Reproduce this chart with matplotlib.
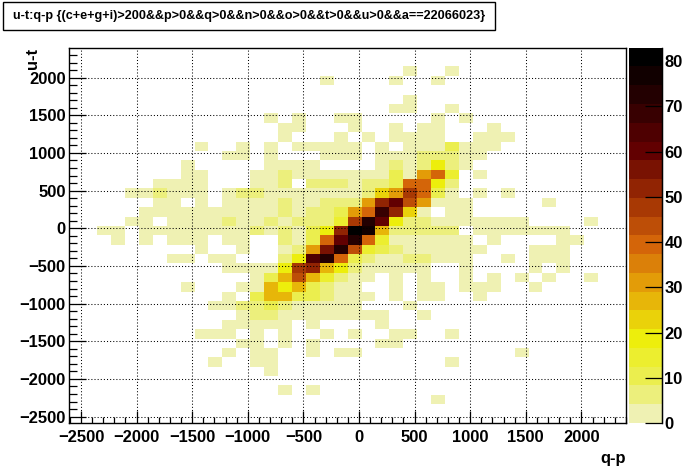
import numpy as np
import matplotlib
matplotlib.use("Agg")
import matplotlib.pyplot as plt
from matplotlib.colors import ListedColormap, BoundaryNorm
from matplotlib.patches import Rectangle
from matplotlib.ticker import MultipleLocator

plt.rcParams['font.family'] = ['Liberation Sans', 'DejaVu Sans']

# ---------------- data ----------------
title_text = "u-t:q-p {(c+e+g+i)>200&&p>0&&q>0&&n>0&&o>0&&t>0&&u>0&&a==22066023}"
x_label = "q-p"
y_label = "u-t"
x_range = (-2605.0, 2401.0)
y_range = (-2585.0, 2397.0)
n_bins_x = 40
n_bins_y = 40
x_ticks = [-2500, -2000, -1500, -1000, -500, 0, 500, 1000, 1500, 2000]
y_ticks = [-2500, -2000, -1500, -1000, -500, 0, 500, 1000, 1500, 2000]
z_ticks = [0, 10, 20, 30, 40, 50, 60, 70, 80]
n_contours = 20

# bin contents: row index 0 = top row of the plot, keys = x-bin index (0 = left)
rows_top_down = [
    {},                                                                   # 0
    {},                                                                   # 1
    {24: 2, 27: 2},                                                       # 2
    {18: 2, 23: 2, 26: 2},                                                # 3
    {},                                                                   # 4
    {24: 2},                                                              # 5
    {23: 2, 24: 2, 27: 2},                                                # 6
    {14: 2, 16: 2, 19: 2, 20: 2, 26: 2, 28: 2},                           # 7
    {15: 2, 16: 2, 20: 2, 23: 2, 25: 2, 26: 2, 30: 2},                    # 8
    {15: 2, 19: 2, 21: 2, 23: 2, 24: 2, 25: 2, 26: 2, 29: 2, 30: 2, 31: 2},  # 9
    {9: 2, 12: 2, 14: 2, 16: 2, 17: 2, 18: 2, 19: 2, 20: 2, 22: 2, 24: 2,
     25: 2, 26: 2, 27: 10, 28: 2, 29: 2, 30: 2},                          # 10
    {11: 2, 12: 2, 14: 2, 18: 2, 19: 2, 20: 2, 22: 2, 23: 2, 24: 2, 25: 6,
     26: 6, 27: 6, 28: 2, 29: 2},                                         # 11
    {8: 2, 14: 2, 15: 2, 16: 2, 17: 2, 22: 2, 23: 6, 24: 2, 25: 6, 26: 18,
     27: 6, 28: 2},                                                       # 12
    {8: 2, 9: 2, 13: 2, 14: 2, 15: 6, 16: 2, 17: 2, 18: 2, 19: 2, 20: 2,
     21: 2, 22: 2, 23: 10, 24: 2, 25: 30, 26: 38, 27: 14, 29: 2},         # 13
    {6: 2, 7: 2, 8: 2, 9: 2, 13: 2, 14: 2, 15: 6, 17: 6, 18: 6, 19: 6,
     20: 2, 21: 6, 22: 6, 23: 10, 24: 40, 25: 38, 26: 18, 27: 6},         # 14
    {4: 2, 5: 2, 6: 6, 7: 2, 8: 2, 9: 2, 11: 2, 12: 6, 13: 6, 14: 2, 15: 2,
     16: 2, 17: 2, 18: 2, 19: 2, 20: 2, 21: 6, 22: 24, 23: 32, 24: 46,
     25: 38, 26: 10, 27: 2, 29: 2, 31: 2},                                # 15
    {6: 2, 7: 2, 9: 2, 11: 2, 12: 2, 13: 2, 14: 2, 15: 6, 16: 2, 17: 2,
     18: 6, 19: 6, 20: 6, 21: 30, 22: 50, 23: 62, 24: 42, 25: 30, 26: 2,
     27: 2, 28: 2, 34: 2},                                                # 16
    {5: 2, 6: 2, 7: 2, 8: 2, 9: 2, 10: 2, 11: 2, 12: 2, 13: 2, 14: 2, 15: 6,
     16: 2, 17: 6, 18: 6, 19: 10, 20: 30, 21: 38, 22: 70, 23: 50, 24: 24,
     25: 2, 27: 2, 28: 2},                                                # 17
    {4: 2, 5: 2, 7: 2, 8: 2, 9: 2, 10: 2, 11: 6, 12: 2, 13: 2, 14: 6, 15: 2,
     16: 6, 17: 6, 18: 6, 19: 14, 20: 46, 21: 74, 22: 62, 23: 18, 24: 8,
     25: 6, 26: 2, 27: 2, 28: 2, 29: 2, 30: 2, 31: 2, 32: 2, 37: 2},      # 18
    {2: 2, 3: 2, 5: 2, 6: 2, 7: 2, 8: 2, 9: 2, 10: 2, 11: 2, 12: 2, 13: 6,
     14: 2, 15: 6, 16: 2, 17: 10, 18: 18, 19: 50, 20: 83, 21: 78, 22: 26,
     23: 6, 24: 6, 25: 6, 26: 6, 27: 6, 29: 2, 30: 2, 31: 2, 32: 2, 33: 2,
     34: 2, 35: 2},                                                       # 19
    {3: 2, 5: 2, 7: 2, 8: 2, 9: 2, 11: 2, 12: 2, 15: 6, 16: 2, 17: 10,
     18: 38, 19: 62, 20: 74, 21: 38, 22: 14, 23: 2, 24: 2, 25: 2, 26: 2,
     27: 2, 28: 2, 30: 2, 35: 2, 36: 2},                                  # 20
    {9: 2, 12: 2, 15: 2, 16: 6, 17: 30, 18: 54, 19: 74, 20: 42, 21: 14,
     22: 10, 23: 6, 24: 2, 25: 2, 26: 2, 27: 2, 28: 2, 29: 2, 33: 2, 34: 2,
     35: 2},                                                              # 21
    {7: 2, 8: 2, 10: 2, 11: 2, 15: 6, 16: 18, 17: 66, 18: 74, 19: 38,
     20: 10, 21: 6, 22: 2, 23: 2, 24: 6, 25: 6, 26: 2, 27: 2, 28: 2, 31: 2,
     33: 2, 34: 2, 35: 2},                                                # 22
    {11: 2, 12: 2, 13: 2, 14: 2, 15: 18, 16: 46, 17: 50, 18: 26, 19: 18,
     20: 6, 21: 2, 22: 2, 23: 2, 24: 2, 25: 2, 28: 2, 33: 2, 35: 2},      # 23
    {13: 2, 14: 10, 15: 26, 16: 42, 17: 26, 18: 14, 19: 6, 20: 2, 21: 2,
     23: 2, 25: 2, 28: 2, 30: 2, 32: 2, 34: 2, 37: 2},                    # 24
    {8: 2, 12: 2, 13: 2, 14: 26, 15: 18, 16: 26, 17: 10, 18: 6, 19: 2,
     20: 2, 23: 2, 25: 2, 26: 2, 28: 2, 29: 2, 30: 2, 33: 2},             # 25
    {11: 2, 13: 10, 14: 26, 15: 26, 16: 10, 17: 10, 18: 6, 19: 2, 20: 2,
     21: 2, 23: 2, 25: 2, 26: 2, 29: 2},                                  # 26
    {10: 2, 11: 2, 12: 6, 13: 8, 14: 12, 15: 6, 16: 2, 17: 2, 18: 2, 19: 2,
     20: 2, 24: 2},                                                       # 27
    {12: 2, 13: 8, 14: 8, 15: 2, 16: 2, 17: 2, 18: 2, 19: 2, 20: 2, 21: 2,
     22: 2, 25: 2},                                                       # 28
    {11: 2, 12: 2, 13: 2, 14: 2, 15: 2, 17: 2, 22: 2},                    # 29
    {9: 2, 10: 2, 11: 2, 13: 2, 15: 2, 18: 2, 20: 2, 23: 2, 24: 2, 27: 2},  # 30
    {12: 2, 13: 2, 15: 2, 17: 2, 22: 2, 23: 2},                           # 31
    {11: 2, 13: 2, 14: 2, 17: 2, 19: 2, 20: 2, 32: 2},                    # 32
    {10: 2, 13: 2, 14: 2, 27: 2},                                         # 33
    {14: 2},                                                              # 34
    {},                                                                   # 35
    {15: 2, 17: 2},                                                       # 36
    {26: 2},                                                              # 37
    {},                                                                   # 38
    {},                                                                   # 39
]

# ---------------- palette (inverted kDarkBodyRadiator, ROOT) ----------------
stops = np.array([0, .125, .25, .375, .5, .625, .75, .875, 1.0])
pr = np.array([0, 45, 99, 156, 212, 230, 237, 234, 242]) / 255.
pg = np.array([0, 0, 0, 45, 101, 168, 238, 238, 243]) / 255.
pb = np.array([0, 1, 1, 3, 9, 8, 11, 95, 230]) / 255.
npal = 255
pos = np.linspace(0, 1, npal)
pal = np.stack([np.interp(pos, stops, pr), np.interp(pos, stops, pg),
                np.interp(pos, stops, pb)], axis=1)[::-1]
band_cols = [pal[min(npal - 1, int((i + 0.99) * npal / n_contours))] for i in range(n_contours)]
cmap = ListedColormap(band_cols)

# ---------------- histogram array ----------------
counts = np.zeros((n_bins_y, n_bins_x))
for r, d in enumerate(rows_top_down):
    for c, v in d.items():
        counts[n_bins_y - 1 - r, c] = v
zmax = counts.max()
levels = np.linspace(0, zmax, n_contours + 1)
norm = BoundaryNorm(levels, cmap.N)
xedges = np.linspace(x_range[0], x_range[1], n_bins_x + 1)
yedges = np.linspace(y_range[0], y_range[1], n_bins_y + 1)

# ---------------- figure ----------------
W, H = 696, 472
fig = plt.figure(figsize=(W / 100, H / 100), dpi=100)
L, R, T, B = 69.3, 626.0, 47.7, 423.0
ax = fig.add_axes([L / W, 1 - B / H, (R - L) / W, (B - T) / H])
mesh = ax.pcolormesh(xedges, yedges, np.ma.masked_where(counts <= 0, counts),
                     cmap=cmap, norm=norm, zorder=1)
ax.set_xlim(x_range)
ax.set_ylim(y_range)
for s in ax.spines.values():
    s.set_linewidth(1.0)
    s.set_color('black')
ax.set_xticks(x_ticks)
ax.set_yticks(y_ticks)
ax.xaxis.set_minor_locator(MultipleLocator(100))
ax.yaxis.set_minor_locator(MultipleLocator(100))
ax.tick_params(axis='x', which='major', direction='in', length=8.4, width=0.9,
               top=False, labelsize=11.9, pad=5)
ax.tick_params(axis='x', which='minor', direction='in', length=4.3, width=0.9, top=False)
ax.tick_params(axis='y', which='major', direction='in', length=12, width=0.9,
               right=False, labelsize=11.9, pad=2.5)
ax.tick_params(axis='y', which='minor', direction='in', length=6, width=0.9, right=False)
for lab in ax.get_xticklabels() + ax.get_yticklabels():
    lab.set_fontweight('bold')
ax.set_axisbelow(False)
ax.grid(True, which='major', color='black', linestyle=(0, (1, 2)), linewidth=0.75)

fig.text(R / W, 1 - 458 / H, x_label, ha='right', va='center',
         fontsize=11.9, fontweight='bold')
fig.text(33 / W, 1 - T / H, y_label, ha='center', va='top', rotation=90,
         fontsize=11.9, fontweight='bold')

# ---------------- colour bar ----------------
CL, CR = 629.3, 661.7
cax = fig.add_axes([CL / W, 1 - B / H, (CR - CL) / W, (B - T) / H])
cb = fig.colorbar(mesh, cax=cax, ticks=z_ticks)
cb.outline.set_visible(False)
cax.spines['right'].set_visible(True)
cax.tick_params(axis='y', which='both', direction='in', length=12.5, width=0.9,
                labelsize=11.9, pad=2, right=True, left=False)
cax.minorticks_off()
for lab in cax.get_yticklabels():
    lab.set_fontweight('bold')
cax.axvline(1.0, color='black', lw=1.0, clip_on=False)

# ---------------- title box ----------------
fig.patches.append(Rectangle((3 / W, 1 - 29.5 / H), (495 - 3) / W, (29.5 - 2) / H,
                             transform=fig.transFigure, facecolor='white',
                             edgecolor='black', linewidth=1.0))
fig.text(249 / W, 1 - 15.5 / H, title_text, ha='center', va='center',
         fontsize=9.1, fontweight='bold')

fig.savefig("out.png", dpi=100)
